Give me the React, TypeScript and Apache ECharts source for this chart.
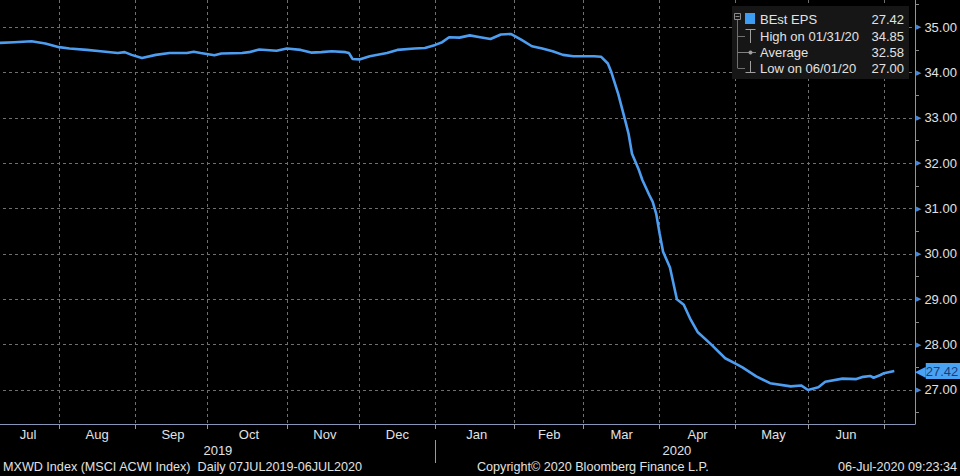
import React, { useEffect, useRef } from "react";
import * as echarts from "echarts";

// ---------- data ----------
const sampleDates = [
  "2019-07-08", "2019-07-15", "2019-07-22", "2019-07-26", "2019-08-01", "2019-08-06", "2019-08-13",
  "2019-08-19", "2019-08-26", "2019-08-28", "2019-08-30", "2019-09-04", "2019-09-10", "2019-09-16",
  "2019-09-23", "2019-09-25", "2019-09-27", "2019-10-03", "2019-10-07", "2019-10-15", "2019-10-17",
  "2019-10-22", "2019-10-29", "2019-11-01", "2019-11-07", "2019-11-12", "2019-11-15", "2019-11-20",
  "2019-11-26", "2019-11-27", "2019-11-28", "2019-12-02", "2019-12-05", "2019-12-12", "2019-12-17",
  "2019-12-24", "2019-12-27", "2020-01-01", "2020-01-03", "2020-01-07", "2020-01-10", "2020-01-15",
  "2020-01-20", "2020-01-23", "2020-01-28", "2020-01-31", "2020-02-05", "2020-02-10", "2020-02-13",
  "2020-02-18", "2020-02-21", "2020-02-26", "2020-03-02", "2020-03-05", "2020-03-09", "2020-03-11",
  "2020-03-12", "2020-03-16", "2020-03-18", "2020-03-19", "2020-03-20", "2020-03-24", "2020-03-25",
  "2020-03-27", "2020-03-30", "2020-03-31", "2020-04-01", "2020-04-02", "2020-04-06", "2020-04-08",
  "2020-04-10", "2020-04-14", "2020-04-16", "2020-04-22", "2020-04-28", "2020-05-01", "2020-05-05",
  "2020-05-11", "2020-05-15", "2020-05-25", "2020-05-28", "2020-06-01", "2020-06-04", "2020-06-08",
  "2020-06-15", "2020-06-19", "2020-06-23", "2020-06-25", "2020-06-26", "2020-06-30", "2020-07-01",
  "2020-07-06",
];
const epsValues = [
  34.65, 34.67, 34.69, 34.64, 34.56, 34.53, 34.5,
  34.47, 34.43, 34.45, 34.39, 34.32, 34.39, 34.43,
  34.43, 34.46, 34.43, 34.38, 34.42, 34.43, 34.45,
  34.51, 34.48, 34.53, 34.5, 34.44, 34.45, 34.47,
  34.45, 34.43, 34.3, 34.29, 34.36, 34.43, 34.5,
  34.53, 34.54, 34.61, 34.67, 34.78, 34.77, 34.82,
  34.78, 34.74, 34.84, 34.85, 34.72, 34.58, 34.53,
  34.47, 34.39, 34.36, 34.36, 34.36, 34.35, 34.2,
  34.01, 33.53, 32.95, 32.65, 32.21, 31.85, 31.63,
  31.3, 31.15, 30.89, 30.45, 30.05, 29.7, 29.0,
  28.88, 28.55, 28.28, 28.0, 27.7, 27.58, 27.5,
  27.3, 27.15, 27.08, 27.1, 27.0, 27.06, 27.18,
  27.25, 27.24, 27.29, 27.31, 27.27, 27.33, 27.37,
  27.42,
];
const monthLabels = ["Jul", "Aug", "Sep", "Oct", "Nov", "Dec", "Jan", "Feb", "Mar", "Apr", "May", "Jun"];
const yearLabels = ["2019", "2020"];
const yTickValues = [27, 28, 29, 30, 31, 32, 33, 34, 35];
const yMinorTickValues = [26.5, 27.5, 28.5, 29.5, 30.5, 31.5, 32.5, 33.5, 34.5, 35.5];
const legendLabels = ["BEst EPS", "High on 01/31/20", "Average", "Low on 06/01/20"];
const legendValues = ["27.42", "34.85", "32.58", "27.00"];
const lastValue = 27.42;
const footerLeft = "MXWD Index (MSCI ACWI Index)  Daily 07JUL2019-06JUL2020";
const footerMid = "Copyright\u00A9 2020 Bloomberg Finance L.P.";
const footerRight = "06-Jul-2020 09:23:34";
const axisStart = "2019-07-08";
const axisEnd = "2020-07-14";

// ---------- helpers ----------
function buildWeekdays(start: string, end: string): string[] {
  const out: string[] = [];
  const d = new Date(start + "T00:00:00Z");
  const e = new Date(end + "T00:00:00Z");
  while (d.getTime() <= e.getTime()) {
    const wd = d.getUTCDay();
    if (wd !== 0 && wd !== 6) out.push(d.toISOString().slice(0, 10));
    d.setUTCDate(d.getUTCDate() + 1);
  }
  return out;
}

const categories = buildWeekdays(axisStart, axisEnd);
const monthStarts: number[] = [];
const yearStarts: number[] = [];
for (let i = 1; i < categories.length; i++) {
  if (categories[i].slice(5, 7) !== categories[i - 1].slice(5, 7)) monthStarts.push(i);
  if (categories[i].slice(0, 4) !== categories[i - 1].slice(0, 4)) yearStarts.push(i);
}
const monthStartSet = new Set(monthStarts);
const yearStartSet = new Set(yearStarts);
const bounds = [0, ...monthStarts];
const monthLabelMap = new Map<number, string>();
for (let k = 0; k < monthLabels.length && k + 1 < bounds.length; k++) {
  monthLabelMap.set(Math.round((bounds[k] + bounds[k + 1]) / 2), monthLabels[k]);
}
const yBounds = [0, ...yearStarts, categories.length - 1];
const yearLabelMap = new Map<number, string>();
for (let k = 0; k < yearLabels.length; k++) {
  yearLabelMap.set(Math.round((yBounds[k] + yBounds[k + 1]) / 2), yearLabels[k]);
}

const FONT = "'Liberation Sans', Arial, sans-serif";
const TXT = "#e2e2e2";
const GRID_C = "#6f6f6f";
const AXIS_C = "#8796b8";
const LINE_C = "#4d9df0";

export default function App() {
  const ref = useRef<HTMLDivElement>(null);
  useEffect(() => {
    if (!ref.current) return;
    const chart = echarts.init(ref.current, undefined, { renderer: "svg" });

    const rowsY = [19, 36, 52, 68];
    const legendGraphics: any[] = [
      { type: "rect", shape: { x: 732, y: 6, width: 177, height: 73 }, style: { fill: "#161616" }, z: 10 },
      { type: "line", shape: { x1: 737.5, y1: 20, x2: 737.5, y2: 68 }, style: { stroke: "#707070", lineWidth: 1 }, z: 11 },
      { type: "rect", shape: { x: 734.5, y: 13.5, width: 6, height: 6 }, style: { fill: "#161616", stroke: "#8a8a8a", lineWidth: 1 }, z: 12 },
      { type: "line", shape: { x1: 735.5, y1: 16.5, x2: 739.5, y2: 16.5 }, style: { stroke: "#8a8a8a", lineWidth: 1 }, z: 12 },
      { type: "rect", shape: { x: 745, y: 13, width: 10, height: 11 }, style: { fill: "#3d9df3" }, z: 12 },
      // high icon
      { type: "line", shape: { x1: 737.5, y1: 36.5, x2: 745, y2: 36.5 }, style: { stroke: "#707070", lineWidth: 1 }, z: 11 },
      { type: "line", shape: { x1: 745.5, y1: 29.5, x2: 755.5, y2: 29.5 }, style: { stroke: "#a0a0a0", lineWidth: 1 }, z: 12 },
      { type: "line", shape: { x1: 750.5, y1: 29.5, x2: 750.5, y2: 43 }, style: { stroke: "#a0a0a0", lineWidth: 1 }, z: 12 },
      // average icon
      { type: "line", shape: { x1: 737.5, y1: 52.5, x2: 756, y2: 52.5 }, style: { stroke: "#808080", lineWidth: 1 }, z: 11 },
      { type: "circle", shape: { cx: 750.5, cy: 52.5, r: 2 }, style: { fill: "#a0a0a0" }, z: 12 },
      // low icon
      { type: "line", shape: { x1: 737.5, y1: 68.5, x2: 745, y2: 68.5 }, style: { stroke: "#707070", lineWidth: 1 }, z: 11 },
      { type: "line", shape: { x1: 750.5, y1: 61, x2: 750.5, y2: 72.5 }, style: { stroke: "#a0a0a0", lineWidth: 1 }, z: 12 },
      { type: "line", shape: { x1: 745.5, y1: 72.5, x2: 755.5, y2: 72.5 }, style: { stroke: "#a0a0a0", lineWidth: 1 }, z: 12 },
    ];
    legendLabels.forEach((lab, i) => {
      legendGraphics.push({
        type: "text", x: 760, y: rowsY[i], z: 12,
        style: { text: lab, fill: TXT, font: `13px ${FONT}`, verticalAlign: "middle", align: "left" },
      });
      legendGraphics.push({
        type: "text", x: 904, y: rowsY[i], z: 12,
        style: { text: legendValues[i], fill: TXT, font: `13px ${FONT}`, verticalAlign: "middle", align: "right" },
      });
    });
    const footer: any[] = [
      { type: "text", x: 3, y: 467, style: { text: footerLeft, fill: TXT, font: `12.6px ${FONT}`, verticalAlign: "middle", align: "left" } },
      { type: "text", x: 477, y: 467, style: { text: footerMid, fill: TXT, font: `12.6px ${FONT}`, verticalAlign: "middle", align: "left" } },
      { type: "text", x: 957, y: 467, style: { text: footerRight, fill: TXT, font: `12.6px ${FONT}`, verticalAlign: "middle", align: "right" } },
    ];

    chart.setOption({
      animation: false,
      backgroundColor: "#000000",
      textStyle: { fontFamily: FONT },
      grid: { left: -3, right: 45, top: 0, bottom: 52, containLabel: false, outerBoundsMode: "none" } as any,
      xAxis: [
        {
          type: "category",
          data: categories,
          boundaryGap: false,
          position: "bottom",
          axisLine: { show: true, lineStyle: { color: AXIS_C, width: 1 } },
          axisTick: { show: true, length: 5, interval: (i: number) => monthStartSet.has(i), lineStyle: { color: "#9a9a9a" } },
          splitLine: { show: true, interval: (i: number) => monthStartSet.has(i), lineStyle: { color: GRID_C, type: [3, 3], width: 1 } },
          axisLabel: {
            show: true,
            interval: (i: number) => monthLabelMap.has(i),
            formatter: (_v: string, i: number) => monthLabelMap.get(i) || "",
            color: TXT, fontSize: 13, margin: 4, fontFamily: FONT,
          },
        },
        {
          type: "category",
          data: categories,
          boundaryGap: false,
          position: "bottom",
          offset: 16,
          axisLine: { show: false },
          axisTick: { show: true, length: 23, interval: (i: number) => yearStartSet.has(i), lineStyle: { color: "#9a9a9a" } },
          splitLine: { show: false },
          axisLabel: {
            show: true,
            interval: (i: number) => yearLabelMap.has(i),
            formatter: (_v: string, i: number) => yearLabelMap.get(i) || "",
            color: TXT, fontSize: 13, margin: 4, fontFamily: FONT,
          },
        },
      ],
      yAxis: [
        {
          type: "value",
          position: "right",
          min: 26.25,
          max: 35.6,
          axisLine: { show: true, lineStyle: { color: AXIS_C, width: 1 } },
          axisTick: { show: false, customValues: yTickValues },
          splitLine: { show: true, lineStyle: { color: GRID_C, type: [3, 3], width: 1 } },
          axisLabel: {
            show: true,
            customValues: yTickValues,
            margin: 1,
            formatter: (v: number) => `{t|\u25B6}{v|${Number(v).toFixed(2)}}`,
            rich: {
              t: { color: "#4f86d6", fontSize: 7, padding: [0, 3, 0, 0], fontFamily: "DejaVu Sans" },
              v: { color: TXT, fontSize: 13, fontFamily: FONT },
            },
          },
        } as any,
        {
          type: "value",
          position: "right",
          min: 26.25,
          max: 35.6,
          axisLine: { show: false },
          axisTick: { show: true, length: 4, customValues: yMinorTickValues, lineStyle: { color: "#8a8a8a" } },
          splitLine: { show: false },
          axisLabel: { show: false },
        } as any,
      ],
      series: [
        {
          type: "line",
          name: "BEst EPS",
          xAxisIndex: 0,
          yAxisIndex: 0,
          data: sampleDates.map((d, i) => [d, epsValues[i]]),
          showSymbol: false,
          symbol: "none",
          lineStyle: { color: LINE_C, width: 2.6 },
          z: 5,
          markLine: {
            silent: true,
            symbol: "none",
            lineStyle: { color: "rgba(0,0,0,0)", width: 0, type: "solid" },
            data: [{ yAxis: lastValue }],
            label: {
              show: true,
              position: "end",
              distance: 0,
              opacity: 1,
              formatter: () => `{a|\u25C0}{b|${lastValue.toFixed(2)}}`,
              rich: {
                a: { color: "#4aa3f2", fontSize: 14, fontFamily: "DejaVu Sans", padding: [0, 0, 0, 0] },
                b: { color: "#1b3c7c", backgroundColor: "#4aa3f2", fontSize: 13, fontFamily: FONT, padding: [2, 4, 1, 0] },
              },
            },
          },
        },
      ],
      graphic: [...legendGraphics, ...footer],
    });
    return () => chart.dispose();
  }, []);
  return <div ref={ref} style={{ position: "absolute", left: 0, top: 0, width: 960, height: 476 }} />;
}
